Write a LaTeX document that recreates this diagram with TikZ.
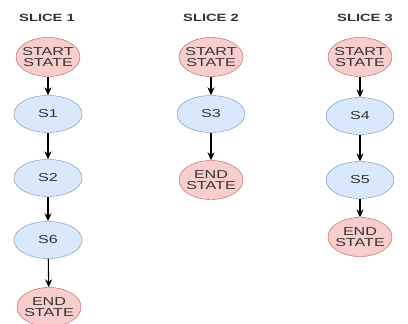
\documentclass[tikz,border=0pt]{standalone}
\usepackage{fontspec}
\newfontfamily\diagfont[FakeStretch=1.4]{Liberation Sans}
\usetikzlibrary{shapes.geometric,arrows.meta}
\definecolor{pinkfill}{HTML}{F8CECC}
\definecolor{pinkline}{HTML}{B85450}
\definecolor{bluefill}{HTML}{DAE8FC}
\definecolor{blueline}{HTML}{6C8EBF}
\definecolor{txt}{HTML}{333333}
\newcommand{\zw}[1]{\makebox[0pt]{#1}}
\tikzset{
  term/.style={ellipse, draw=pinkline, fill=pinkfill, minimum width=64pt, minimum height=39pt, inner sep=0pt,
    font=\diagfont\fontsize{11.5}{10.5}\selectfont, text=txt, align=center},
  state/.style={ellipse, draw=blueline, fill=bluefill, minimum width=68pt, minimum height=37pt, inner sep=0pt,
    font=\diagfont\fontsize{11.5}{11}\selectfont, text=txt, align=center},
  title/.style={font=\diagfont\bfseries\fontsize{10.5}{11}\selectfont, text=txt},
  link/.style={draw=black, line width=1.1pt, -{Stealth[length=8pt,width=7pt]}}
}
\begin{document}
\begin{tikzpicture}[x=1pt,y=-1pt]
\useasboundingbox (0,0) rectangle (408,324);
\clip (0,0) rectangle (408,324);
\fill[white] (0,0) rectangle (408,324);
% slice 1
\node[title] (t1) at (47,18) {SLICE 1};
\node[term] (a0) at (48,57) {\zw{START}\\\zw{STATE}};
\node[state] (a1) at (48,114) {S1};
\node[state] (a2) at (48,178) {S2};
\node[state] (a3) at (48,240) {S6};
\node[term] (a4) at (49,307) {\zw{END}\\\zw{STATE}};
\draw[link] (a0) -- (a1);
\draw[link] (a1) -- (a2);
\draw[link] (a2) -- (a3);
\draw[link] (a3) -- (a4);
% slice 2
\node[title] (t2) at (211,18) {SLICE 2};
\node[term] (b0) at (211,57) {\zw{START}\\\zw{STATE}};
\node[state] (b1) at (211,114) {S3};
\node[term] (b2) at (211,180) {\zw{END}\\\zw{STATE}};
\draw[link] (b0) -- (b1);
\draw[link] (b1) -- (b2);
% slice 3
\node[title] (t3) at (365,18) {SLICE 3};
\node[term] (c0) at (360,57) {\zw{START}\\\zw{STATE}};
\node[state] (c1) at (360,116) {S4};
\node[state] (c2) at (360,180) {S5};
\node[term] (c3) at (360,237) {\zw{END}\\\zw{STATE}};
\draw[link] (c0) -- (c1);
\draw[link] (c1) -- (c2);
\draw[link] (c2) -- (c3);
\end{tikzpicture}
\end{document}
